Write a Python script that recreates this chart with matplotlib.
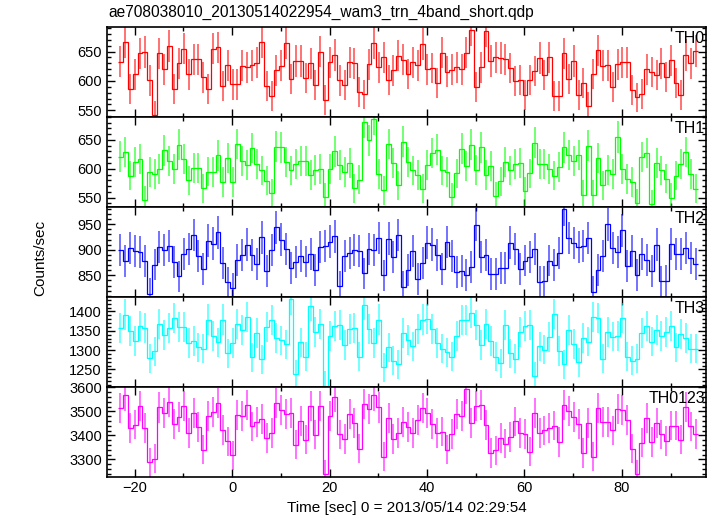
import numpy as np
import matplotlib
matplotlib.use('Agg')
import matplotlib.pyplot as plt
from matplotlib.ticker import MultipleLocator

plt.rcParams['font.family'] = ['Liberation Sans', 'DejaVu Sans']

# light curve, 1 s bins starting at t0
T_START = -23.4
BIN_SEC = 1.0
EXPOSURE = 0.9   # live time per bin, for the poisson error bars

th0 = [633, 667, 587, 611, 647, 649, 601, 542, 647, 620, 660, 587, 630, 655, 611, 637, 637, 606, 587, 655,
       657, 591, 627, 594, 594, 626, 623, 627, 631, 666, 591, 574, 618, 626, 664, 603, 634, 634, 605, 630,
       593, 650, 568, 632, 644, 601, 593, 632, 630, 581, 577, 628, 664, 623, 640, 602, 618,
       643, 636, 612, 632, 627, 663, 620, 622, 596, 648, 616, 619, 623, 620, 648, 687, 590, 623, 685, 634,
       640, 639, 637, 622, 600, 602, 576, 602, 617, 639, 610, 640, 574, 574, 647, 603, 634, 576, 596, 557,
       612, 652, 626, 627, 589, 628, 632, 632, 585, 572, 578, 620, 615, 610, 630, 607, 635, 596, 576, 644,
       630, 651]
th1 = [621, 629, 588, 612, 617, 546, 594, 591, 599, 632, 613, 599, 642, 617, 580, 601, 602, 566, 595, 594,
       623, 577, 618, 577, 643, 613, 607, 636, 609, 597, 579, 558, 638, 637, 611, 597, 609, 614, 614, 589,
       598, 599, 551, 599, 630, 607, 594, 610, 566, 581, 681, 649, 686, 591, 563, 643, 610,
       571, 647, 611, 597, 589, 565, 607, 627, 633, 597, 594, 551, 592, 635, 605, 642, 598, 637, 589, 605,
       553, 578, 612, 597, 609, 610, 561, 592, 645, 609, 609, 600, 588, 603, 637, 624, 613, 624, 555, 640,
       555, 618, 571, 598, 591, 655, 600, 582, 577, 540, 620, 627, 539, 610, 597, 583, 550, 588, 609, 629,
       591, 565]
th2 = [900, 878, 903, 897, 895, 878, 814, 871, 905, 899, 907, 876, 848, 892, 901, 929, 888, 863, 918, 912,
       934, 874, 836, 825, 880, 890, 910, 889, 872, 924, 858, 899, 944, 920, 902, 864, 876, 888, 877, 892,
       861, 905, 907, 916, 926, 829, 887, 893, 899, 897, 854, 902, 900, 923, 850, 922, 886,
       929, 828, 861, 898, 843, 874, 914, 910, 889, 863, 915, 887, 856, 858, 851, 867, 949, 886, 889, 853,
       853, 865, 864, 914, 902, 863, 879, 885, 902, 837, 838, 879, 870, 893, 980, 923, 913, 905, 907, 923,
       818, 861, 888, 950, 903, 895, 938, 869, 898, 851, 892, 880, 859, 910, 838, 839, 911, 892, 892, 903,
       884, 872]
th3 = [1358, 1392, 1349, 1323, 1362, 1357, 1279, 1297, 1367, 1340, 1358, 1384, 1359, 1359, 1318, 1323, 1307,
       1304, 1379, 1337, 1320, 1379, 1292, 1318, 1367, 1352, 1386, 1281, 1344, 1276, 1360, 1378, 1332, 1325,
       1315, 1432, 1237, 1320, 1283, 1414, 1348, 1367, 1208, 1336, 1362, 1364, 1313, 1355, 1357, 1283, 1418,
       1355, 1318, 1379, 1256, 1307, 1272,
       1263, 1344, 1327, 1310, 1355, 1379, 1381, 1355, 1318, 1304, 1294, 1283, 1337, 1377, 1377, 1397, 1364,
       1313, 1367, 1324, 1283, 1266, 1365, 1292, 1278, 1346, 1362, 1365, 1233, 1310, 1301, 1333, 1394, 1298,
       1263, 1353, 1316, 1269, 1331, 1322, 1385, 1384, 1278, 1346, 1335, 1337, 1384, 1283, 1272, 1278, 1344,
       1362, 1322, 1351, 1337, 1346, 1362, 1307, 1342, 1331, 1304, 1304]
th0123 = [3514, 3566, 3432, 3445, 3522, 3432, 3289, 3303, 3516, 3493, 3538, 3448, 3478, 3522, 3411, 3492,
          3434, 3341, 3481, 3497, 3536, 3423, 3375, 3318, 3485, 3481, 3526, 3437, 3456, 3467, 3390, 3411,
          3533, 3505, 3490, 3493, 3362, 3459, 3382, 3522, 3403, 3522, 3238, 3482, 3560, 3404, 3386, 3490,
          3452, 3345, 3530, 3510, 3566, 3516, 3311, 3473, 3386,
          3411, 3455, 3434, 3411, 3464, 3514, 3493, 3448, 3411, 3416, 3341, 3407, 3489, 3482, 3592, 3451,
          3523, 3526, 3444, 3327, 3338, 3390, 3366, 3393, 3458, 3411, 3407, 3332, 3493, 3410, 3421, 3430,
          3441, 3373, 3527, 3500, 3478, 3448, 3327, 3451, 3311, 3514, 3455, 3455, 3421, 3510, 3505, 3464,
          3345, 3238, 3370, 3473, 3373, 3451, 3404, 3377, 3441, 3441, 3382, 3519, 3437, 3407]

names = ['TH0', 'TH1', 'TH2', 'TH3', 'TH0123']
colors = ['#ff0000', '#00ff00', '#0000ff', '#00ffff', '#ff00ff']
ylims = [(539, 692), (534, 690), (808, 984), (1205, 1438), (3228, 3602)]
ymajor = [50, 50, 50, 50, 100]
yminor = [10, 10, 10, 10, 20]

fig, axes = plt.subplots(5, 1, figsize=(7.17, 5.16), dpi=100, sharex=True)
fig.subplots_adjust(left=0.149, right=0.985, top=0.948, bottom=0.076, hspace=0)

for ax, vals, name, c, yl, maj, mnr in zip(axes, [th0, th1, th2, th3, th0123], names, colors,
                                          ylims, ymajor, yminor):
    vals = np.array(vals, dtype=float)
    edges = T_START + np.arange(len(vals) + 1) * BIN_SEC
    centers = edges[:-1] + BIN_SEC / 2
    err = np.sqrt(vals / EXPOSURE)
    ax.errorbar(centers, vals, yerr=err, fmt='none', ecolor=c, elinewidth=1.1, alpha=0.7)
    ax.stairs(vals, edges, color=c, lw=0.9, baseline=None)
    ax.set_ylim(yl)
    ax.yaxis.set_major_locator(MultipleLocator(maj))
    ax.yaxis.set_minor_locator(MultipleLocator(mnr))
    ax.tick_params(which='both', direction='in', top=True, right=True, labelsize=10.5, width=1)
    ax.tick_params(which='major', length=6)
    ax.tick_params(which='minor', length=3)
    ax.tick_params(axis='x', pad=3)
    for s in ax.spines.values():
        s.set_linewidth(1.2)
    ax.text(0.998, 0.95, name, transform=ax.transAxes, ha='right', va='top', fontsize=11.5)

axes[-1].set_xlim(-25.7, 97.3)
axes[-1].xaxis.set_major_locator(MultipleLocator(20))
axes[-1].xaxis.set_minor_locator(MultipleLocator(10))
axes[-1].set_xlabel('Time [sec] 0 = 2013/05/14 02:29:54', fontsize=11, labelpad=4)

fig.text(0.151, 0.975, 'ae708038010_20130514022954_wam3_trn_4band_short.qdp', fontsize=11.2,
         ha='left', va='center')
fig.text(0.056, 0.5, 'Counts/sec', rotation=90, ha='center', va='center', fontsize=11)

fig.savefig('out.png', dpi=100)
